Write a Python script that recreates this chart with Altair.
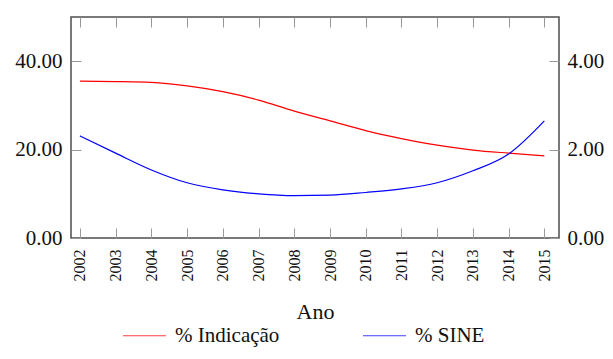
import altair as alt
import pandas as pd

years = list(range(2002, 2016))
indicacao = [35.5, 35.4, 35.2, 34.4, 33.1, 31.2, 28.7, 26.5, 24.3, 22.5, 21.0, 19.9, 19.2, 18.6]
sine = [2.31, 1.92, 1.54, 1.25, 1.09, 1.00, 0.96, 0.97, 1.03, 1.11, 1.25, 1.52, 1.90, 2.65]
left_ticks = [0, 20, 40]
right_ticks = [0, 2, 4]
series_names = ["% Indicação", "% SINE"]
series_colors = ["#ff0000", "#0000ff"]

W, H = 488, 221
FONT = "Liberation Serif"

df = pd.DataFrame({"Ano": years, "ind": indicacao, "sine": sine})

xscale = alt.Scale(domain=[2001.75, 2015.41], nice=False, zero=False)
color = alt.Color(
    "s:N",
    scale=alt.Scale(domain=series_names, range=series_colors),
    legend=alt.Legend(
        title=None, orient="none", legendX=51, legendY=296, direction="horizontal",
        symbolType="stroke", symbolSize=1849, symbolStrokeWidth=1.2, symbolOpacity=0.75,
        labelFont=FONT, labelFontSize=21, labelColor="#111", labelOffset=8,
        columnPadding=80, padding=0,
    ),
)

xaxis = alt.Axis(
    values=years, format="d", labelAngle=270, labelFont=FONT, labelFontSize=16,
    labelColor="#111", labelOverlap=False, ticks=False, domain=False, grid=True,
    gridColor="#999", gridDash=[10, H - 20, 10, 2000], gridOpacity=1, gridWidth=1,
    labelPadding=11,
    title="Ano", titleFont=FONT, titleFontSize=22, titleFontWeight="normal",
    titleColor="#111", titlePadding=20,
)

red = alt.Chart(df).transform_calculate(s="'% Indicação'").mark_line(
    interpolate="monotone", strokeWidth=1.2
).encode(
    x=alt.X("Ano:Q", scale=xscale, axis=xaxis),
    y=alt.Y("ind:Q", scale=alt.Scale(domain=[0, 50], nice=False),
            axis=alt.Axis(values=left_ticks, format=".2f", orient="left", ticks=False,
                          domain=False, grid=True, gridColor="#999",
                          gridDash=[10, W - 20, 10, 2000], gridOpacity=1, gridWidth=1,
                          labelFont=FONT, labelFontSize=21,
                          labelColor="#111", labelPadding=9, title=None)),
    color=color,
)

blue = alt.Chart(df).transform_calculate(s="'% SINE'").mark_line(
    interpolate="monotone", strokeWidth=1.2
).encode(
    x=alt.X("Ano:Q", scale=xscale, axis=xaxis),
    y=alt.Y("sine:Q", scale=alt.Scale(domain=[0, 5], nice=False),
            axis=alt.Axis(values=right_ticks, format=".2f", orient="right", ticks=False,
                          domain=False, grid=False, labelFont=FONT, labelFontSize=21,
                          labelColor="#111", labelPadding=8, title=None)),
    color=color,
)

chart = alt.layer(red, blue).resolve_scale(
    y="independent"
).properties(
    width=W, height=H,
    autosize=alt.AutoSizeParams(type="none"),
    padding={"left": 63, "top": 9, "right": 46, "bottom": 113},
).configure_view(stroke="#4d4d4d", strokeWidth=1.5)

chart.save("out.html", embed_options={"renderer": "svg", "actions": False})
